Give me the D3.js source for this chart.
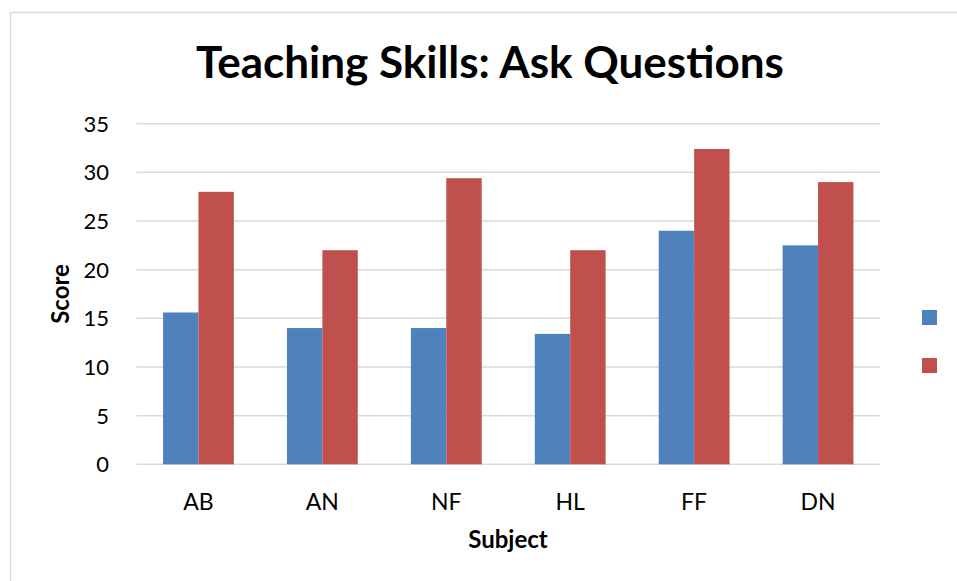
<!DOCTYPE html>
<html>
<head>
<meta charset="utf-8">
<script src="https://cdn.jsdelivr.net/npm/d3@7"></script>
<style>
  body { margin: 0; background: #fff; }
  text { font-family: Lato, "Open Sans", sans-serif; fill: #000; }
</style>
</head>
<body>
<svg width="957" height="581"></svg>
<script>
const subjects = ["AB", "AN", "NF", "HL", "FF", "DN"];
const series = ["Series1", "Series2"];
const blueScores = [15.6, 14, 14, 13.4, 24, 22.5];
const redScores = [28, 22, 29.4, 22, 32.4, 29];
const yTicks = [0, 5, 10, 15, 20, 25, 30, 35];
const colors = ["#4f81bd", "#c0504d"];

const rows = subjects.map((s, i) => ({ subject: s, values: [blueScores[i], redScores[i]] }));

let svg = d3.select("svg");

// chart border
svg.append("rect")
  .attr("x", 10.5).attr("y", 12.5)
  .attr("width", 1000).attr("height", 1000)
  .attr("fill", "none").attr("stroke", "#d9d9d9").attr("stroke-width", 1.5);

let x0 = d3.scaleBand().domain(subjects).range([136.5, 880]).padding(0);
let x1 = d3.scaleBand().domain(series).range([0, x0.bandwidth()]).paddingInner(0).paddingOuter(0.75);
let y = d3.scaleLinear().domain([0, 35]).range([464.3, 123.7]);

// gridlines
svg.append("g")
  .selectAll("line")
  .data(yTicks)
  .enter()
  .append("line")
  .attr("x1", 136.5).attr("x2", 880)
  .attr("y1", d => y(d)).attr("y2", d => y(d))
  .attr("stroke", "#d9d9d9").attr("stroke-width", 1.5);

// y tick labels
svg.append("g")
  .selectAll("text")
  .data(yTicks)
  .enter()
  .append("text")
  .attr("x", 109).attr("y", d => y(d) + 8)
  .attr("text-anchor", "end")
  .attr("font-size", 22)
  .text(d => d);

// bars
let groups = svg.append("g")
  .selectAll("g")
  .data(rows)
  .enter()
  .append("g")
  .attr("transform", d => `translate(${x0(d.subject)},0)`);

groups.selectAll("rect")
  .data(d => d.values.map((v, i) => ({ key: series[i], v: v, i: i })))
  .enter()
  .append("rect")
  .attr("x", d => x1(d.key))
  .attr("width", x1.bandwidth())
  .attr("y", d => y(d.v))
  .attr("height", d => y(0) - y(d.v))
  .attr("fill", d => colors[d.i]);

// x labels
svg.append("g")
  .selectAll("text")
  .data(subjects)
  .enter()
  .append("text")
  .attr("x", d => x0(d) + x0.bandwidth() / 2)
  .attr("y", 510)
  .attr("text-anchor", "middle")
  .attr("font-size", 23)
  .text(d => d);

// title
svg.append("text")
  .attr("x", 490).attr("y", 78)
  .attr("text-anchor", "middle")
  .attr("font-size", 44).attr("font-weight", "bold")
  .text("Teaching Skills: Ask Questions");

// axis titles
svg.append("text")
  .attr("x", 508).attr("y", 548)
  .attr("text-anchor", "middle")
  .attr("font-size", 24).attr("font-weight", "bold")
  .text("Subject");

svg.append("text")
  .attr("transform", "translate(69,294) rotate(-90)")
  .attr("text-anchor", "middle")
  .attr("font-size", 24).attr("font-weight", "bold")
  .text("Score");

// legend (no labels)
svg.append("g")
  .selectAll("rect")
  .data(series)
  .enter()
  .append("rect")
  .attr("x", 922).attr("y", (d, i) => 310 + i * 48)
  .attr("width", 15).attr("height", 15)
  .attr("fill", (d, i) => colors[i]);
</script>
</body>
</html>
